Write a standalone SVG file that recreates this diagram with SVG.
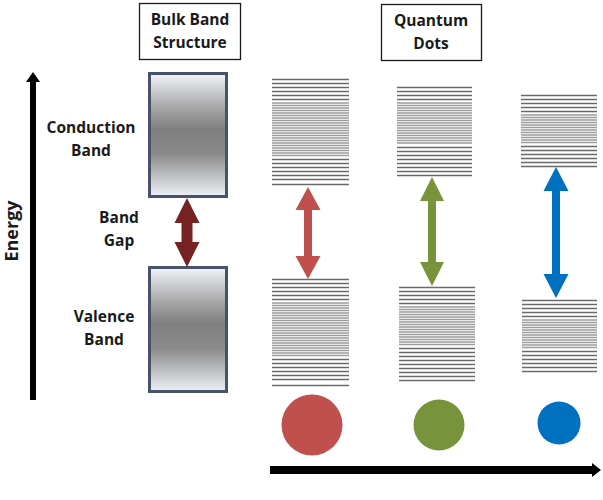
<svg xmlns="http://www.w3.org/2000/svg" width="603" height="500" viewBox="0 0 603 500">
<style>
.lbl{font-family:"Open Sans","Liberation Sans",sans-serif;font-weight:bold;font-size:15.5px;fill:#1a1a1a;text-anchor:middle}
.hdr{fill:#fff;stroke:#1a1a1a;stroke-width:1.3}
.band{fill:url(#bandGrad);stroke:#46536a;stroke-width:3}
.sp{fill:none;stroke:#6a6a6a;stroke-width:1.3}
.dn{fill:none;stroke:#9c9c9c;stroke-width:1.3}
</style>
<defs>
<linearGradient id="bandGrad" x1="0" y1="0" x2="0" y2="1">
<stop offset="0" stop-color="#f1f4fa"/>
<stop offset="0.28" stop-color="#a6a6a6"/>
<stop offset="0.45" stop-color="#7f7f7f"/>
<stop offset="0.65" stop-color="#8a8a8a"/>
<stop offset="1" stop-color="#eef1f7"/>
</linearGradient>
</defs>
<rect width="603" height="500" fill="#fff"/>

<g id="energy-axis">
<line x1="33" y1="400" x2="33" y2="80" stroke="#000" stroke-width="6"/>
<polygon points="33,72 40,82 26,82" fill="#000"/>
<text class="lbl" transform="translate(18,231) rotate(-90)" style="font-size:18px">Energy</text>
</g>

<g id="bulk-header">
<rect class="hdr" x="139.5" y="3.5" width="101" height="56"/>
<text class="lbl" x="190" y="25">Bulk Band</text>
<text class="lbl" x="190" y="48">Structure</text>
</g>

<g id="conduction-band">
<rect class="band" x="149.5" y="73.5" width="77" height="123"/>
<text class="lbl" x="91" y="133">Conduction</text>
<text class="lbl" x="91" y="156">Band</text>
</g>

<g id="band-gap">
<text class="lbl" x="119" y="223">Band</text>
<text class="lbl" x="119" y="246">Gap</text>
</g>

<g id="valence-band">
<rect class="band" x="149.5" y="267.5" width="77" height="124"/>
<text class="lbl" x="104" y="322">Valence</text>
<text class="lbl" x="104" y="345">Band</text>
</g>

<g id="qd-header">
<rect class="hdr" x="381.5" y="4.5" width="100" height="56"/>
<text class="lbl" x="431" y="26">Quantum</text>
<text class="lbl" x="431" y="49">Dots</text>
</g>

<g id="qd-large">
<path class="sp" d="M272 79.5h77M272 83.5h77M272 87.5h77M272 91.5h77M272 95.5h77M272 99.5h77M272 159.5h77M272 163.5h77M272 167.5h77M272 171.5h77M272 175.5h77M272 179.5h77M272 184.5h77"/>
<path class="dn" d="M272 103h77M272 105.5h77M272 108h77M272 110.5h77M272 113h77M272 115.5h77M272 118h77M272 120.5h77M272 123h77M272 125.5h77M272 128h77M272 130.5h77M272 133h77M272 135.5h77M272 138h77M272 140.5h77M272 143h77M272 145.5h77M272 148h77M272 150.5h77M272 153h77M272 155.5h77"/>
<path class="sp" d="M272 279.5h77M272 283.5h77M272 287.5h77M272 291.5h77M272 295.5h77M272 299.5h77M272 359.5h77M272 363.5h77M272 367.5h77M272 371.5h77M272 375.5h77M272 379.5h77M272 385.5h77"/>
<path class="dn" d="M272 303h77M272 305.5h77M272 308h77M272 310.5h77M272 313h77M272 315.5h77M272 318h77M272 320.5h77M272 323h77M272 325.5h77M272 328h77M272 330.5h77M272 333h77M272 335.5h77M272 338h77M272 340.5h77M272 343h77M272 345.5h77M272 348h77M272 350.5h77M272 353h77M272 355.5h77"/>
<circle cx="312" cy="425" r="30.5" fill="#c0504d"/>
</g>

<g id="qd-medium">
<path class="sp" d="M397 87.5h75M397 91.5h75M397 95.5h75M397 99.5h75M397 147.5h75M397 151.5h75M397 155.5h75M397 159.5h75M397 163.5h75M397 167.5h75M397 171.5h75M397 175.5h75"/>
<path class="dn" d="M397 103h75M397 105.5h75M397 108h75M397 110.5h75M397 113h75M397 115.5h75M397 118h75M397 120.5h75M397 123h75M397 125.5h75M397 128h75M397 130.5h75M397 133h75M397 135.5h75M397 138h75M397 140.5h75M397 143h75"/>
<path class="sp" d="M399 287.5h76M399 291.5h76M399 295.5h76M399 299.5h76M399 303.5h76M399 348.5h76M399 352.5h76M399 356.5h76M399 360.5h76M399 364.5h76M399 368.5h76M399 372.5h76M399 376.5h76M399 380.5h76"/>
<path class="dn" d="M399 307h76M399 309.5h76M399 312h76M399 314.5h76M399 317h76M399 319.5h76M399 322h76M399 324.5h76M399 327h76M399 329.5h76M399 332h76M399 334.5h76M399 337h76M399 339.5h76M399 342h76M399 344.5h76"/>
<circle cx="439" cy="425" r="25.5" fill="#77933c"/>
</g>

<g id="qd-small">
<path class="sp" d="M521 95.5h76M521 99.5h76M521 103.5h76M521 107.5h76M521 111.5h76M521 146.5h76M521 150.5h76M521 154.5h76M521 158.5h76M521 162.5h76M521 166.5h76"/>
<path class="dn" d="M521 115h76M521 117.5h76M521 120h76M521 122.5h76M521 125h76M521 127.5h76M521 130h76M521 132.5h76M521 135h76M521 137.5h76M521 140h76M521 142.5h76"/>
<path class="sp" d="M522 300.5h75M522 304.5h75M522 308.5h75M522 312.5h75M522 316.5h75M522 351.5h75M522 355.5h75M522 359.5h75M522 363.5h75M522 367.5h75M522 371.5h75"/>
<path class="dn" d="M522 320h75M522 322.5h75M522 325h75M522 327.5h75M522 330h75M522 332.5h75M522 335h75M522 337.5h75M522 340h75M522 342.5h75M522 345h75M522 347.5h75"/>
<circle cx="559" cy="423" r="21.5" fill="#0070c0"/>
</g>

<g id="connectors">
<polygon fill="#772222" points="187,198 199.5,223 192.5,223 192.5,242 199.5,242 187,267 174.5,242 181.5,242 181.5,223 174.5,223"/>
<polygon fill="#c0504d" points="308,187 320.5,210 312,210 312,256 320.5,256 308,279 295.5,256 304,256 304,210 295.5,210"/>
<polygon fill="#77933c" points="432,177 444,201 436,201 436,262 444,262 432,286 420,262 428,262 428,201 420,201"/>
<polygon fill="#0070c0" points="556,167 568.5,191 560,191 560,274 568.5,274 556,298 543.5,274 552,274 552,191 543.5,191"/>
<line x1="270" y1="470" x2="594" y2="470" stroke="#000" stroke-width="8"/>
<polygon points="601,470 592,463 592,477" fill="#000"/>
</g>
</svg>
